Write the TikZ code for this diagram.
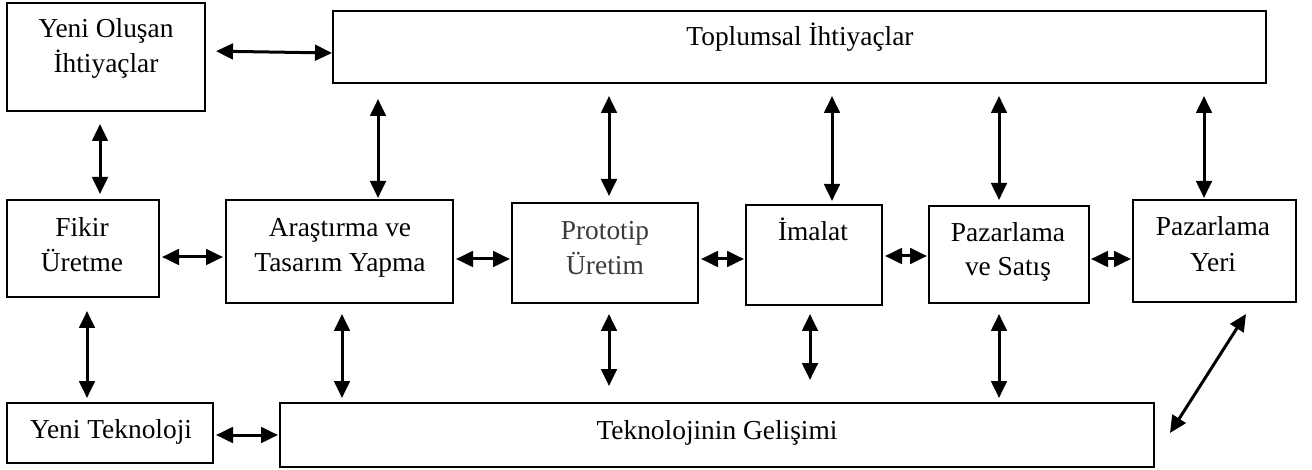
\documentclass[tikz,border=0pt]{standalone}
\usepackage{fontspec}
\setmainfont{Liberation Serif}
\usetikzlibrary{arrows.meta,calc}

\tikzset{
  box/.style={draw, line width=1pt, inner sep=0pt, fill=white},
  lbl/.style={anchor=base, inner sep=0pt, font=\fontsize{13.7}{16}\selectfont},
  arr/.style={line width=1.5pt, {Triangle[length=8.5pt,width=7.8pt]}-{Triangle[length=8.5pt,width=7.8pt]}},
}
\definecolor{softgray}{RGB}{58,58,58}

\begin{document}
\begin{tikzpicture}[x=0.5pt,y=-0.5pt]
\useasboundingbox (0,0) rectangle (1312,470);

% boxes
\node[box, minimum width=99pt,    minimum height=54pt]   (yeni)    at (106,57)      {};
\node[box, minimum width=466.5pt, minimum height=36pt]   (toplum)  at (799.5,47)    {};
\node[box, minimum width=76pt,    minimum height=48.5pt] (fikir)   at (83,248.5)    {};
\node[box, minimum width=113.5pt, minimum height=51.5pt] (aras)    at (339.5,251.5) {};
\node[box, minimum width=93pt,    minimum height=50pt]   (proto)   at (605,253)     {};
\node[box, minimum width=68pt,    minimum height=50pt]   (imalat)  at (814,255)     {};
\node[box, minimum width=80pt,    minimum height=48.5pt] (pazsat)  at (1009,254.5)  {};
\node[box, minimum width=81.5pt,  minimum height=51pt]   (yeri)    at (1214.5,251)  {};
\node[box, minimum width=103pt,   minimum height=30pt]   (yenitek) at (110,433)     {};
\node[box, minimum width=437pt,   minimum height=32pt]   (tekgel)  at (717,435)     {};

% texts
\node[lbl] (yeniA)   at (106,38)  {Yeni Oluşan};
\node[lbl] (yeniB)   at (106,73)  {İhtiyaçlar};
\node[lbl] (toplumA) at (800,46)  {Toplumsal İhtiyaçlar};
\node[lbl] (fikirA)  at (82,237)  {Fikir};
\node[lbl] (fikirB)  at (82,272)  {Üretme};
\node[lbl] (arasA)   at (340,237) {Araştırma ve};
\node[lbl] (arasB)   at (340,272) {Tasarım Yapma};
\node[lbl, text=softgray] (protoA) at (605,240) {Prototip};
\node[lbl, text=softgray] (protoB) at (605,275) {Üretim};
\node[lbl] (imalatA) at (813,241) {İmalat};
\node[lbl] (pazsatA) at (1008,242) {Pazarlama};
\node[lbl] (pazsatB) at (1008,276) {ve Satış};
\node[lbl] (yeriA)   at (1213,236) {Pazarlama};
\node[lbl] (yeriB)   at (1213,271) {Yeri};
\node[lbl] (yenitekA) at (111,438) {Yeni Teknoloji};
\node[lbl] (tekgelA)  at (717,439) {Teknolojinin Gelişimi};

% connectors
\draw[arr, shorten <=5pt] (yeni.east |- 0,51) -- (toplum.west |- 0,53);
\draw[arr, shorten <=6pt, shorten >=2.5pt] (yeni.south -| 100,0) -- (fikir.north -| 100,0);
\draw[arr, shorten <=1pt, shorten >=1pt] (fikir.east |- 0,257) -- (aras.west |- 0,257);

\draw[arr, shorten <=7.5pt, shorten >=0.5pt] (toplum.south -| 378,0)  -- (aras.north -| 378,0);
\draw[arr, shorten <=6pt, shorten >=3pt]     (toplum.south -| 609,0)  -- (proto.north -| 609,0);
\draw[arr, shorten <=6pt, shorten >=1.5pt]   (toplum.south -| 832,0)  -- (imalat.north -| 832,0);
\draw[arr, shorten <=6pt, shorten >=2.5pt]   (toplum.south -| 999,0)  -- (pazsat.north -| 999,0);
\draw[arr, shorten <=6pt, shorten >=0.5pt]   (toplum.south -| 1204,0) -- (yeri.north -| 1204,0);

\draw[arr, shorten <=1pt, shorten >=0.5pt] (aras.east |- 0,259)   -- (proto.west |- 0,259);
\draw[arr, shorten <=1pt, shorten >=0.5pt] (proto.east |- 0,259)  -- (imalat.west |- 0,259);
\draw[arr, shorten <=1pt, shorten >=0.5pt] (imalat.east |- 0,256) -- (pazsat.west |- 0,256);
\draw[arr, shorten <=0.5pt, shorten >=0.5pt] (pazsat.east |- 0,259) -- (yeri.west |- 0,259);

\draw[arr, shorten <=6.5pt, shorten >=2pt] (fikir.south -| 87,0)   -- (yenitek.north -| 87,0);
\draw[arr, shorten <=5pt, shorten >=2pt]   (aras.south -| 342,0)   -- (tekgel.north -| 342,0);
\draw[arr, shorten <=5pt, shorten >=8pt]   (proto.south -| 609,0)  -- (tekgel.north -| 609,0);
\draw[arr, shorten <=4pt, shorten >=11pt]  (imalat.south -| 810,0) -- (tekgel.north -| 810,0);
\draw[arr, shorten <=5pt, shorten >=2pt]   (pazsat.south -| 999,0) -- (tekgel.north -| 999,0);

\draw[arr, shorten <=1pt, shorten >=0.5pt] (yenitek.east |- 0,435) -- (tekgel.west |- 0,435);
\draw[arr] ($(yeri.south west)+(114,11)$) -- ($(tekgel.east)+(15,-2)$);
\end{tikzpicture}
\end{document}
